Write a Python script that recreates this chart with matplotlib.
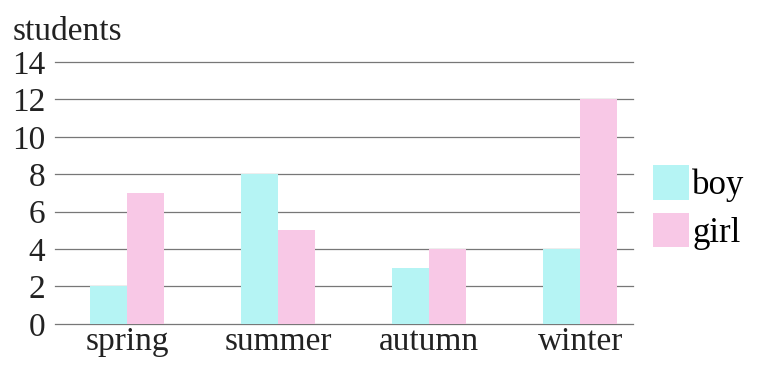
import matplotlib.pyplot as plt
import numpy as np

seasons = ['spring', 'summer', 'autumn', 'winter']
boy = [2, 8, 3, 4]
girl = [7, 5, 4, 12]
yticks = [0, 2, 4, 6, 8, 10, 12, 14]

plt.rcParams['font.family'] = ['Liberation Serif', 'DejaVu Serif']

fig = plt.figure(figsize=(7.62, 3.74), dpi=100)
ax = fig.add_axes([0.072, 0.134, 0.759, 0.700])

x = np.arange(len(seasons))
w = 0.245
ax.bar(x - w / 2, boy, w, color='#b5f4f4', label='boy', zorder=3)
ax.bar(x + w / 2, girl, w, color='#f8c8e6', label='girl', zorder=3)

ax.set_xlim(-0.48, 3.35)
ax.set_ylim(0, 14)
ax.set_yticks(yticks)
ax.set_xticks(x)
ax.set_xticklabels(seasons)
ax.grid(axis='y', color='#777777', linewidth=0.9, zorder=0)
for line in ax.get_ygridlines():
    line.set_clip_on(False)
for s in ax.spines.values():
    s.set_visible(False)
ax.tick_params(axis='both', length=0, labelsize=24, colors='#222222')
ax.tick_params(axis='y', pad=7)
ax.tick_params(axis='x', pad=2)

fig.text(0.016, 0.915, 'students', fontsize=24, color='#222222', va='center')

ax.legend(loc='center left', bbox_to_anchor=(1.034, 0.445), frameon=False,
          fontsize=25, handlelength=1.05, handleheight=1.15, handletextpad=0.08,
          labelspacing=0.3, borderaxespad=0, borderpad=0)

fig.savefig('out.png', dpi=100)
